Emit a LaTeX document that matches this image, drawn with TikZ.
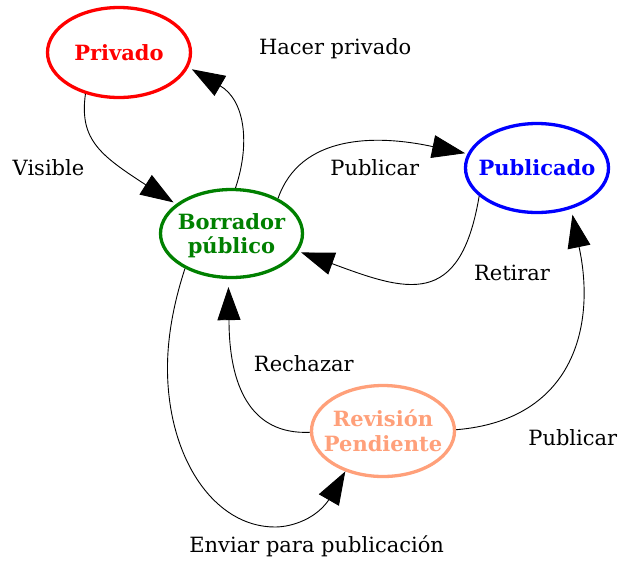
\documentclass[tikz,border=0pt]{standalone}
\usepackage{fontspec}
\setmainfont{DejaVu Serif}
\usetikzlibrary{shapes.geometric,arrows.meta}
\definecolor{privred}{RGB}{255,0,0}
\definecolor{borgreen}{RGB}{0,128,0}
\definecolor{pubblue}{RGB}{0,0,255}
\definecolor{revsalmon}{RGB}{255,160,122}
\begin{document}
\begin{tikzpicture}[x=1pt,y=-1pt,
  state/.style={ellipse, draw, line width=3.3pt, inner xsep=-40pt, inner ysep=0pt,
    minimum width=143pt, minimum height=90pt,
    font=\fontsize{21}{24.8}\selectfont\bfseries, align=center},
  lbl/.style={anchor=base, inner sep=0pt, font=\fontsize{21}{24.8}\selectfont},
  edge/.style={line width=0.9pt, -{Triangle[length=33pt,width=23pt]}}
]
\useasboundingbox (0,0) rectangle (618,560);

\node[state, draw=privred, text=privred] (priv) at (119,52.5) {Privado};
\node[state, draw=borgreen, text=borgreen, minimum width=142pt, minimum height=88pt, text depth=0pt] (bor) at (231.5,233.5) {Borrador\\público};
\node[state, draw=pubblue, text=pubblue, minimum height=89pt] (pub) at (537,168) {Publicado};
\node[state, draw=revsalmon, text=revsalmon, minimum height=91pt] (rev) at (383,431) {Revisión\\Pendiente};

% Visible
\draw[edge, shorten >=3pt] (priv.231) .. controls (79,140) and (100.7,155.6) .. (146.8,185.5) -- (bor.152);
% Hacer privado
\draw[edge, shorten >=4pt] (bor.85) .. controls (250,145) and (245.7,100.4) .. (219.7,85.5) -- (priv.-12);
% Publicar (upper)
\draw[edge, shorten >=2.4pt] (bor.37.5) .. controls (300,135) and (374.7,133.9) .. (433.3,146.7) -- (pub);
% Retirar
\draw[edge, shorten >=3pt] (pub.206) .. controls (460,310) and (406.2,291.2) .. (331.2,263.3) -- (bor.-15);
% Enviar para publicacion
\draw[edge] (bor.217.6) .. controls (173,305) and (167,340) .. (167.5,372)
  .. controls (168.9,460) and (215,527) .. (275,527)
  .. controls (292,527) and (317.7,518.6) .. (330.5,497.2) -- (rev.227);
% Rechazar
\draw[edge, shorten >=8pt] (rev.181) .. controls (250,435) and (229,385) .. (229,320) -- (bor.266);
% Publicar (lower)
\draw[edge, shorten >=6pt] (rev.1.4) .. controls (575,420) and (596.2,323.8) .. (578.8,245.8) -- (pub.-50);

\node[lbl] (lhp) at (335.2,54.3) {Hacer privado};
\node[lbl] (lvis) at (48.5,175) {Visible};
\node[lbl] (lpub1) at (374.8,175) {Publicar};
\node[lbl] (lret) at (512,280) {Retirar};
\node[lbl] (lrech) at (303.8,371) {Rechazar};
\node[lbl] (lpub2) at (572.8,445) {Publicar};
\node[lbl] (lenv) at (316.7,552.7) {Enviar para publicación};
\end{tikzpicture}
\end{document}
